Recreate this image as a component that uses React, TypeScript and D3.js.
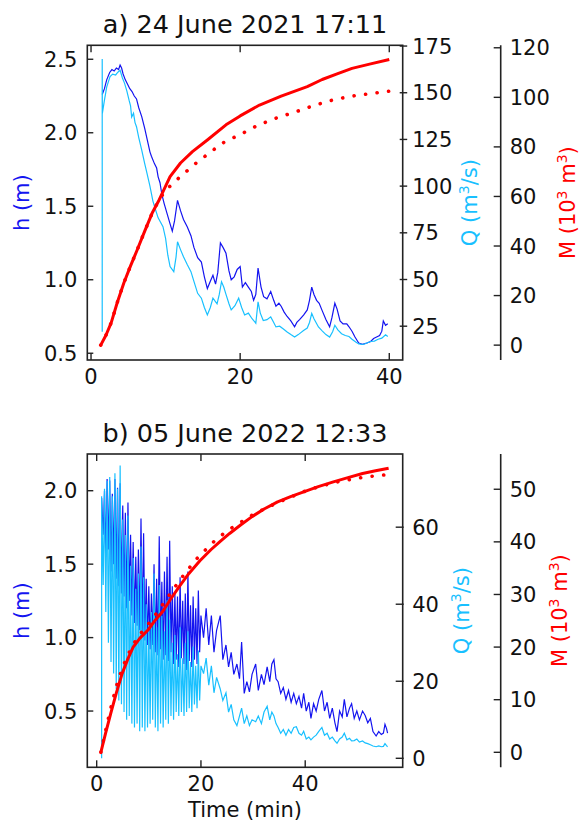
import React from 'react';
import * as d3 from 'd3';

type Pt = [number, number];

// ---- a) 24 June 2021 17:11 ----
const aH: Pt[] = [
  [1.5, 2.26], [1.8, 2.3], [2.1, 2.36], [2.5, 2.41], [2.8, 2.43], [3.1, 2.42], [3.4, 2.44], [3.7, 2.43],
  [3.9, 2.46], [4.1, 2.44], [4.3, 2.4], [4.6, 2.36], [4.9, 2.33], [5.2, 2.3], [5.5, 2.28], [5.8, 2.25],
  [6.1, 2.23], [6.4, 2.17], [6.8, 2.11], [7.2, 2.03], [7.55, 1.95], [7.9, 1.87], [8.1, 1.84], [8.5, 1.79],
  [8.8, 1.76], [9.0, 1.7], [9.25, 1.66], [9.5, 1.58], [9.8, 1.52], [10.2, 1.45], [10.6, 1.38], [10.9, 1.33],
  [11.2, 1.4], [11.6, 1.54], [12.0, 1.47], [12.4, 1.41], [12.9, 1.36], [13.4, 1.3], [13.8, 1.22], [14.3, 1.15],
  [14.8, 1.12], [15.2, 1.02], [15.6, 0.94], [16.0, 0.99], [16.35, 1.03], [16.7, 0.97], [17.0, 1.05], [17.35, 1.25],
  [17.7, 1.22], [18.1, 1.18], [18.5, 1.06], [18.8, 1.0], [19.2, 1.02], [19.6, 1.07], [20.0, 1.09], [20.3, 0.95],
  [20.7, 0.98], [21.1, 0.95], [21.5, 0.92], [21.8, 0.86], [22.1, 0.9], [22.4, 1.08], [22.8, 0.95], [23.15, 0.885],
  [23.6, 0.87], [24.1, 0.92], [24.5, 0.86], [24.8, 0.82], [25.2, 0.84], [25.5, 0.82], [25.9, 0.78], [26.3, 0.75],
  [26.8, 0.72], [27.3, 0.68], [27.6, 0.71], [28.0, 0.73], [28.5, 0.76], [29.0, 0.795], [29.3, 0.86], [29.6, 0.95],
  [29.9, 0.9], [30.25, 0.86], [30.6, 0.84], [31.0, 0.79], [31.5, 0.73], [32.0, 0.68], [32.3, 0.74], [32.7, 0.84],
  [33.0, 0.8], [33.4, 0.72], [33.8, 0.7], [34.3, 0.7], [34.6, 0.68], [35.0, 0.65], [35.4, 0.61], [35.9, 0.57],
  [36.4, 0.56], [37.0, 0.57], [37.5, 0.58], [37.9, 0.6], [38.3, 0.61], [38.7, 0.62], [39.0, 0.65], [39.2, 0.72],
  [39.5, 0.69], [39.8, 0.7],
];
const aQ: Pt[] = [
  [1.5, 22], [1.5, 168], [1.52, 139], [1.8, 146], [2.1, 153], [2.55, 158.6], [2.9, 160], [3.3, 159.5],
  [3.6, 161], [3.9, 162], [4.2, 158], [4.5, 155], [4.8, 151], [5.1, 146], [5.3, 143], [5.45, 137],
  [5.7, 139], [5.9, 134], [6.1, 131.8], [6.4, 126], [6.8, 119.3], [7.2, 112], [7.5, 107], [7.9, 100],
  [8.3, 92], [8.66, 87.2], [9.0, 83], [9.65, 78.3], [10.0, 72], [10.3, 63], [10.6, 56.9], [11.1, 54.2],
  [11.4, 62], [11.6, 70.2], [12.0, 66], [12.4, 62.2], [12.9, 58], [13.4, 54.2], [13.8, 49], [14.3, 42.6],
  [14.8, 40], [15.2, 35], [15.6, 31], [16.0, 35], [16.35, 40], [16.9, 37], [17.2, 42], [17.5, 48.8],
  [17.8, 46], [18.1, 42], [18.5, 37], [18.8, 33.7], [19.3, 36], [19.8, 40], [20.2, 35], [20.6, 31],
  [21.1, 32], [21.6, 29], [22.1, 26.6], [22.4, 38], [22.7, 32], [23.1, 28], [23.6, 28.5], [24.1, 30],
  [24.5, 27], [24.8, 24.6], [25.3, 25], [25.8, 23.5], [26.3, 21.9], [26.8, 20.5], [27.3, 19.2], [27.8, 20.5],
  [28.5, 22.7], [29.0, 24], [29.3, 27], [29.6, 31.9], [29.9, 29], [30.5, 24.6], [31.0, 22.5], [31.5, 20.5],
  [32.0, 19.2], [32.4, 22], [32.7, 25.5], [33.1, 23], [33.6, 21], [34.1, 20], [34.6, 19.5], [35.0, 18],
  [35.5, 16.5], [35.9, 15.5], [36.5, 15.2], [37.0, 16], [37.5, 16.8], [38.0, 17], [38.5, 18], [39.0, 18.6],
  [39.5, 20.4], [39.8, 19.5],
];
const aMSolid: Pt[] = [
  [1.3, 0], [2.0, 4], [2.7, 9], [3.5, 17], [4.4, 25.1], [5.3, 32], [6.2, 38.5], [7.2, 46], [8.2, 53.3],
  [9.15, 58.7], [10.6, 68], [12.0, 73.5], [13.6, 78.1], [15.6, 82.8], [18.1, 88.9], [20.0, 92.5],
  [22.6, 96.9], [25.5, 100.5], [29.0, 104.3], [31.0, 107.2], [33.0, 109.5], [35.0, 111.7], [37.5, 113.5],
  [40.0, 115.3],
];
const aMDotted: Pt[] = [
  [1.3, 0], [2.0, 4], [2.7, 9], [3.5, 17], [4.4, 25.1], [5.3, 32], [6.2, 38.5], [7.2, 46], [8.2, 53.3],
  [9.15, 58.7], [10.0, 62.5], [11.6, 67], [14.1, 73.5], [17.6, 81.5], [20.0, 85], [22.5, 88.9], [25.0, 91.8],
  [27.5, 94.2], [30.0, 96.8], [32.5, 99], [35.0, 100.5], [37.5, 101.5], [40.0, 102.5],
];

// ---- b) 05 June 2022 12:33 ----
// first 20 min sampled every 0.25 min, then the slower tail
const bT0 = 0.95;
const bHHead = [
  1.95, 1.7, 2.0, 1.55, 2.08, 1.6, 2.07, 1.45, 1.98, 1.5, 2.08, 1.4, 2.02, 1.35, 2.05, 1.3,
  1.9, 1.28, 1.85, 1.2, 1.92, 1.25, 1.7, 1.15, 1.65, 1.1, 1.55, 1.08, 1.6, 1.05, 1.81, 1.02,
  1.71, 0.98, 1.4, 0.95, 1.35, 0.92, 1.3, 0.95, 1.5, 0.9, 1.4, 0.88, 1.69, 0.92, 1.38, 0.85,
  1.45, 0.88, 1.55, 0.84, 1.66, 0.9, 1.35, 0.82, 1.3, 0.85, 1.28, 0.8, 1.41, 0.86, 1.25, 0.82,
  1.3, 0.78, 1.45, 0.84, 1.22, 0.8, 1.28, 0.85, 1.2, 0.82, 1.32, 0.9, 1.15,
];
const bQHead = [
  68, 45, 70, 38, 72, 30, 73, 25, 68, 22, 74, 18, 70, 15, 76, 14,
  62, 12, 58, 10, 63, 11, 50, 9, 52, 8, 44, 9, 48, 7, 55, 8,
  47, 7, 40, 8, 35, 9, 38, 10, 48, 8, 34, 7, 45, 9, 37, 8,
  33, 10, 41, 9, 36, 11, 30, 10, 32, 12, 27, 11, 34, 12, 26, 11,
  30, 12, 33, 13, 25, 12, 29, 14, 24, 13, 28, 15, 24,
];
const bTail: number[] = [
  20.5, 21, 21.5, 22, 22.5, 23, 23.7, 24.2, 24.8, 25.3, 25.8, 26.3, 26.9, 27.4, 27.8, 28.3,
  28.8, 29.3, 29.8, 30.5, 31, 31.6, 32.1, 32.7, 33.2, 33.6, 34, 34.4, 34.8, 35.3, 35.8, 36.3,
  36.8, 37.3, 37.8, 38.3, 38.8, 39.3, 39.7, 40.2, 40.7, 41.1, 41.6, 42.1, 42.6, 43.2, 43.7, 44.2,
  44.7, 45.2, 45.7, 46.1, 46.6, 47.1, 47.5, 48, 48.5, 48.9, 49.4, 49.9, 50.4, 51, 51.5, 52,
  52.5, 53, 53.6, 54.1, 54.6, 55, 55.3, 55.6, 55.8,
];
const bHTail = [
  1.0, 1.2, 0.95, 1.15, 0.9, 1.05, 1.15, 0.85, 0.95, 0.8, 0.9, 0.75, 0.82, 0.72, 0.97, 0.62,
  0.7, 0.63, 0.75, 0.82, 0.64, 0.75, 0.68, 0.8, 0.7, 0.82, 0.85, 0.72, 0.7, 0.62, 0.66, 0.58,
  0.64, 0.56, 0.62, 0.55, 0.6, 0.52, 0.62, 0.5, 0.56, 0.45, 0.55, 0.5, 0.58, 0.64, 0.5, 0.56,
  0.45, 0.52, 0.42, 0.36, 0.5, 0.46, 0.58, 0.46, 0.52, 0.55, 0.45, 0.5, 0.44, 0.5, 0.47, 0.42,
  0.45, 0.36, 0.33, 0.36, 0.34, 0.35, 0.41, 0.38, 0.35,
];
const bQTail = [
  22, 26, 19, 24, 17, 21, 18, 15, 17, 12, 14, 10, 8.5, 11, 13, 9,
  11, 8.5, 10, 9.5, 11, 9, 12, 13.5, 10, 12, 11, 9, 8, 6.5, 7.5, 6,
  7.5, 6.5, 8, 8.2, 6.5, 6, 7, 5, 5.5, 4.8, 5.5, 6, 7, 8, 6, 6.5,
  5, 5.5, 4.5, 3.9, 5, 5.5, 6.5, 4.8, 5.2, 4.5, 4.6, 5, 4.2, 4.5, 4, 3.8,
  3.5, 3.2, 3.0, 3.2, 3.0, 3.1, 3.8, 3.3, 3.0,
];
const bMSolid: Pt[] = [
  [0.8, 0], [1.7, 3.6], [2.7, 7.4], [3.8, 11.4], [4.9, 15], [6.0, 17.8], [7.0, 20], [8.3, 21.7], [9.8, 23.2],
  [11.3, 25.2], [12.7, 26.8], [14.1, 29], [15.9, 31.6], [17.7, 34], [19.8, 36.4], [21.9, 38.5], [23.7, 40.1],
  [25.5, 41.6], [27.6, 43.2], [29.8, 44.8], [32.2, 46.3], [34.7, 47.6], [37.2, 48.6], [39.7, 49.5],
  [42.5, 50.5], [45.4, 51.4], [48.2, 52.2], [51.0, 53], [53.5, 53.5], [56.0, 54],
];
const bMDotted: Pt[] = [
  [0.8, 0], [2.0, 5.4], [3.0, 9.6], [4.0, 13.3], [5.0, 16.2], [6.0, 18.5], [7.0, 20.5], [8.0, 22], [9.0, 23.3],
  [10.0, 24.5], [12.0, 27.1], [14.0, 30], [16.0, 32.8], [19.0, 36.6], [22.3, 39.9], [25.0, 42.1],
  [27.6, 43.7], [30.0, 45.2], [33.3, 46.8], [36.0, 48], [40.4, 49.8], [43.0, 50.6], [46.2, 51.4],
  [50.0, 52.1], [53.0, 52.5], [56.0, 52.8],
];

const bH: Pt[] = [[bT0, bHHead[0]] as Pt]
  .concat(bHHead.slice(1).map((v, i) => [1 + 0.25 * (i + 1), v] as Pt))
  .concat(bTail.map((t, i) => [t, bHTail[i]] as Pt));
const bQ: Pt[] = [[bT0, 0] as Pt, [bT0, bQHead[0]] as Pt]
  .concat(bQHead.slice(1).map((v, i) => [1 + 0.25 * (i + 1), v] as Pt))
  .concat(bTail.map((t, i) => [t, bQTail[i]] as Pt));

const xTicksA = [0, 20, 40];
const hTicksA = [0.5, 1.0, 1.5, 2.0, 2.5];
const qTicksA = [25, 50, 75, 100, 125, 150, 175];
const mTicksA = [0, 20, 40, 60, 80, 100, 120];
const xTicksB = [0, 20, 40];
const hTicksB = [0.5, 1.0, 1.5, 2.0];
const qTicksB = [0, 20, 40, 60];
const mTicksB = [0, 10, 20, 30, 40, 50];

const H_COLOR = '#1414f0';
const Q_COLOR = '#18c0ff';
const M_COLOR = '#ff0000';
const FONT = 'DejaVu Sans, sans-serif';
const TICK_FS = 21;

const LEFT = 87.3;
const RIGHT = 402.7;
const M_AXIS = 500.7;

interface PanelProps {
  top: number;
  bottom: number;
  title: string;
  xDomain: [number, number];
  hDomain: [number, number];
  qDomain: [number, number];
  mDomain: [number, number];
  xTicks: number[];
  hTicks: number[];
  qTicks: number[];
  mTicks: number[];
  h: Pt[];
  q: Pt[];
  mSolid: Pt[];
  mDotted: Pt[];
  qLabelX: number;
  mLabelX: number;
  qTickIn: number;
  qTickOut: number;
  xLabel?: string;
}

function Panel(p: PanelProps) {
  const x = d3.scaleLinear().domain(p.xDomain).range([LEFT, RIGHT]);
  const yH = d3.scaleLinear().domain(p.hDomain).range([p.bottom, p.top]);
  const yQ = d3.scaleLinear().domain(p.qDomain).range([p.bottom, p.top]);
  const yM = d3.scaleLinear().domain(p.mDomain).range([p.bottom, p.top]);
  const lineH = d3.line<Pt>().x(d => x(d[0])).y(d => yH(d[1]));
  const lineQ = d3.line<Pt>().x(d => x(d[0])).y(d => yQ(d[1]));
  const lineM = d3.line<Pt>().x(d => x(d[0])).y(d => yM(d[1]));
  const midY = (p.top + p.bottom) / 2;
  const midX = (LEFT + RIGHT) / 2;
  const clipId = 'clip' + Math.round(p.top);

  return (
    <g fontFamily={FONT}>
      <defs>
        <clipPath id={clipId}>
          <rect x={LEFT} y={p.top} width={RIGHT - LEFT} height={p.bottom - p.top} />
        </clipPath>
      </defs>
      <text x={midX} y={p.top - 12.5} textAnchor="middle" fontSize={25.5} fill="#111">{p.title}</text>

      <g clipPath={`url(#${clipId})`} fill="none">
        <path d={lineH(p.h) || ''} stroke={H_COLOR} strokeWidth={1.2} />
        <path d={lineQ(p.q) || ''} stroke={Q_COLOR} strokeWidth={1.2} />
        <path d={lineM(p.mDotted) || ''} stroke={M_COLOR} strokeWidth={3.6} strokeDasharray="0.1 11.5" strokeLinecap="round" />
        <path d={lineM(p.mSolid) || ''} stroke={M_COLOR} strokeWidth={3} strokeLinejoin="round" />
      </g>

      <rect x={LEFT} y={p.top} width={RIGHT - LEFT} height={p.bottom - p.top} fill="none" stroke="#222" strokeWidth={1.6} />

      {p.xTicks.map(t => (
        <g key={'x' + t}>
          <line x1={x(t)} x2={x(t)} y1={p.bottom} y2={p.bottom - 7} stroke="#222" strokeWidth={1.4} />
          <line x1={x(t)} x2={x(t)} y1={p.top} y2={p.top + 7} stroke="#222" strokeWidth={1.4} />
          <text x={x(t)} y={p.bottom + 24} textAnchor="middle" fontSize={TICK_FS} fill="#111">{t}</text>
        </g>
      ))}

      {p.hTicks.map(t => (
        <g key={'h' + t}>
          <line x1={LEFT} x2={LEFT + 6} y1={yH(t)} y2={yH(t)} stroke="#222" strokeWidth={1.4} />
          <text x={LEFT - 10} y={yH(t)} dy="0.36em" textAnchor="end" fontSize={TICK_FS} fill="#111">{d3.format('.1f')(t)}</text>
        </g>
      ))}

      {p.qTicks.map(t => (
        <g key={'q' + t}>
          <line x1={RIGHT - p.qTickIn} x2={RIGHT + p.qTickOut} y1={yQ(t)} y2={yQ(t)} stroke="#222" strokeWidth={1.4} />
          <text x={RIGHT + 9.5} y={yQ(t)} dy="0.36em" textAnchor="start" fontSize={TICK_FS} fill="#111">{t}</text>
        </g>
      ))}

      <line x1={M_AXIS} x2={M_AXIS} y1={p.top} y2={p.bottom} stroke="#222" strokeWidth={1.6} />
      {p.mTicks.map(t => (
        <g key={'m' + t}>
          <line x1={M_AXIS - 7} x2={M_AXIS} y1={yM(t)} y2={yM(t)} stroke="#222" strokeWidth={1.4} />
          <text x={M_AXIS + 9} y={yM(t)} dy="0.36em" textAnchor="start" fontSize={TICK_FS} fill="#111">{t}</text>
        </g>
      ))}

      <text transform={`translate(29,${midY}) rotate(-90)`} textAnchor="middle" fontSize={21} fill={H_COLOR}>h (m)</text>
      <text transform={`translate(${p.qLabelX},${midY}) rotate(-90)`} textAnchor="middle" fontSize={21} fill={Q_COLOR}>
        Q (m<tspan dy={-8} fontSize={14}>3</tspan><tspan dy={8}>/s)</tspan>
      </text>
      <text transform={`translate(${p.mLabelX},${midY}) rotate(-90)`} textAnchor="middle" fontSize={21} fill={M_COLOR}>
        M (10<tspan dy={-8} fontSize={14}>3</tspan><tspan dy={8}> m</tspan><tspan dy={-8} fontSize={14}>3</tspan><tspan dy={8}>)</tspan>
      </text>

      {p.xLabel && (
        <text x={midX} y={p.bottom + 49.5} textAnchor="middle" fontSize={21} fill="#111">{p.xLabel}</text>
      )}
    </g>
  );
}

export default function App() {
  return (
    <svg width={581} height={821} style={{ position: 'absolute', left: 0, top: 0, background: '#fff' }}>
      <rect width={581} height={821} fill="#fff" />
      <Panel
        top={45.3} bottom={360} title="a) 24 June 2021 17:11"
        xDomain={[-0.5, 41.8]} hDomain={[0.454, 2.595]} qDomain={[6.9, 175.4]} mDomain={[-6, 121]}
        xTicks={xTicksA} hTicks={hTicksA} qTicks={qTicksA} mTicks={mTicksA}
        h={aH} q={aQ} mSolid={aMSolid} mDotted={aMDotted}
        qLabelX={477} mLabelX={575} qTickIn={3} qTickOut={4.5}
      />
      <Panel
        top={454} bottom={767.3} title="b) 05 June 2022 12:33"
        xDomain={[-1.8, 58.7]} hDomain={[0.117, 2.25]} qDomain={[-2.34, 79]} mDomain={[-2.85, 56.7]}
        xTicks={xTicksB} hTicks={hTicksB} qTicks={qTicksB} mTicks={mTicksB}
        h={bH} q={bQ} mSolid={bMSolid} mDotted={bMDotted}
        qLabelX={469} mLabelX={567} qTickIn={7} qTickOut={1}
        xLabel="Time (min)"
      />
    </svg>
  );
}
